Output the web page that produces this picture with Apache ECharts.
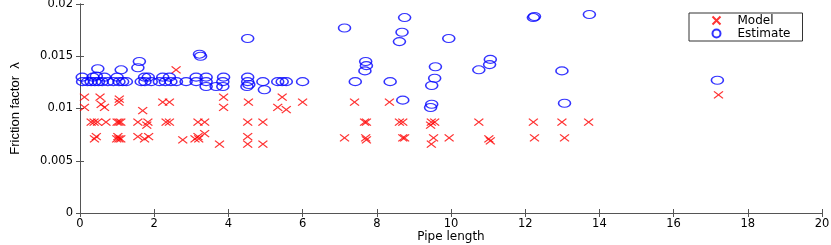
<!DOCTYPE html>
<html><head><meta charset="utf-8">
<script src="https://cdn.jsdelivr.net/npm/echarts@6/dist/echarts.min.js"></script>
<style>html,body{margin:0;padding:0;background:#fff}#c{width:831px;height:245px}</style>
</head><body><div id="c"></div>
<script>
var xTicks = [0,2,4,6,8,10,12,14,16,18,20];
var yTicks = [0,0.005,0.01,0.015,0.02];
var modelPoints = [
[0.12,0.0111],[0.12,0.0101],[0.54,0.0111],[0.57,0.0104],[0.66,0.0101],[1.06,0.0109],[1.05,0.0106],[2.59,0.0137],[1.69,0.0098],[2.23,0.0106],[2.41,0.0106],[3.87,0.0111],[3.87,0.0101],[4.54,0.0106],
[0.3,0.0087],[0.38,0.0087],[0.47,0.0087],[0.7,0.0087],[1.0,0.0087],[1.05,0.0087],[1.1,0.0087],[1.56,0.0087],[1.83,0.0087],[2.32,0.0087],[2.41,0.0087],[3.18,0.0087],[3.36,0.0087],[4.52,0.0087],[4.93,0.0087],
[1.8,0.0084],
[0.44,0.0073],[1.02,0.0073],[1.56,0.0073],[1.85,0.0073],[3.18,0.0073],[4.52,0.0073],
[0.39,0.0071],[0.99,0.0071],[1.05,0.0071],[1.1,0.0071],[1.74,0.0071],[3.1,0.0071],[3.2,0.0071],
[2.77,0.0070],[3.36,0.0076],[3.76,0.0066],[4.52,0.0066],[4.93,0.0066],
[5.45,0.0111],[5.33,0.0101],[5.56,0.0099],[6.0,0.0106],[7.4,0.0106],[7.13,0.0072],[7.67,0.0087],[7.72,0.0087],[7.7,0.0072],[7.72,0.0070],[8.34,0.0106],[8.61,0.0087],[8.7,0.0087],[8.7,0.0072],[8.75,0.0072],[9.47,0.0087],[9.56,0.0087],[9.45,0.0084],[9.53,0.0072],[9.47,0.0066],[9.95,0.0072],[10.75,0.0087],[11.02,0.0071],[11.06,0.0069],[12.22,0.0087],[12.25,0.0072],[12.99,0.0087],[13.06,0.0072],[13.71,0.0087],[17.21,0.0113]
];
var estimatePoints = [
[0.07,0.01257],[0.2,0.01257],[0.3,0.01257],[0.4,0.01257],[0.5,0.01257],[0.6,0.01257],[0.75,0.01257],[0.9,0.01257],[1.05,0.01257],[1.15,0.01257],[1.25,0.01257],[1.65,0.01257],[1.75,0.01257],[1.92,0.01257],[2.14,0.01257],[2.3,0.01257],[2.45,0.01257],[2.6,0.01257],[2.86,0.01257],[3.13,0.01257],[3.4,0.01257],[3.85,0.01257],[4.52,0.01257],[4.93,0.01257],[5.33,0.01257],[5.45,0.01257],[5.56,0.01257],[6.0,0.01257],[7.42,0.01257],[8.36,0.01257],
[0.06,0.013],[0.35,0.013],[0.66,0.013],[1.0,0.013],[1.74,0.013],[1.84,0.013],[2.23,0.013],[2.41,0.013],[3.13,0.013],[3.4,0.013],[3.87,0.013],[4.52,0.013],
[0.48,0.0138],[0.44,0.0131],[1.11,0.0137],[1.6,0.0145],[1.56,0.0139],[3.22,0.0152],[3.25,0.0150],[3.4,0.0121],[3.67,0.0121],[3.85,0.0121],[4.5,0.0121],[4.55,0.0123],[4.52,0.0167],[4.97,0.0118],[7.13,0.0177],[7.7,0.0145],[7.72,0.0141],[7.68,0.0136],[8.75,0.0187],[8.68,0.0173],[8.61,0.0164],[8.7,0.0108],[9.94,0.0167],[9.58,0.0140],[9.56,0.0129],[9.48,0.0122],[9.48,0.0104],[9.45,0.0101],[10.75,0.0137],[11.04,0.0142],[11.06,0.0147],[12.22,0.0187],[12.25,0.0188],[12.99,0.0136],[13.06,0.0105],[13.73,0.0190],[17.18,0.0127]
];
var wideFont = '"DejaVu Sans", Verdana, sans-serif';
var narrowFont = '"Liberation Sans Narrow", "Arial Narrow", "Liberation Sans", sans-serif';
var axisLineColor = '#555';
var crossPath = 'path://M0,0 L10,10 M10,0 L0,10';
var ellipsePath = 'path://M0,50 A50,50 0 1,1 100,50 A50,50 0 1,1 0,50 Z';
var chart = echarts.init(document.getElementById('c'), null, {renderer:'canvas'});
function yFmt(v){ return v === 0 ? '0' : String(+v.toFixed(3)); }
chart.setOption({
  animation:false,
  grid:{left:80, right:9, top:4, bottom:32, containLabel:false, outerBoundsMode:'none'},
  legend:{
    orient:'vertical', left:689, top:13,
    backgroundColor:'#fff', borderColor:'#333', borderWidth:1,
    padding:[1,12,1,21], itemWidth:12, itemHeight:8, itemGap:0,
    textStyle:{fontFamily:wideFont, fontSize:12, color:'#000', padding:[0,0,0,10]},
    data:['Model','Estimate']
  },
  xAxis:[{
    type:'value', min:xTicks[0], max:xTicks[xTicks.length-1], interval:2,
    name:'Pipe length', nameLocation:'middle', nameGap:18, nameMoveOverlap:false,
    nameTextStyle:{fontFamily:wideFont, fontSize:12, color:'#000'},
    axisLine:{show:true, lineStyle:{color:axisLineColor}},
    axisTick:{inside:true, length:4, lineStyle:{color:axisLineColor}},
    axisLabel:{fontFamily:wideFont, fontSize:11.5, color:'#000', margin:5},
    splitLine:{show:false}
  },{
    type:'value', position:'top', min:0, max:20, interval:2,
    axisLine:{show:true, lineStyle:{color:axisLineColor}},
    axisTick:{inside:true, length:4, lineStyle:{color:axisLineColor}},
    axisLabel:{show:false}, splitLine:{show:false}
  }],
  yAxis:[{
    type:'value', min:yTicks[0], max:yTicks[yTicks.length-1], interval:0.005,
    name:'Friction factor  \u03bb', nameLocation:'middle', nameGap:58, nameMoveOverlap:false,
    nameTextStyle:{fontFamily:narrowFont, fontSize:13, color:'#000'},
    axisLine:{show:true, lineStyle:{color:axisLineColor}},
    axisTick:{inside:true, length:4, lineStyle:{color:axisLineColor}},
    axisLabel:{fontFamily:wideFont, fontSize:11.5, color:'#000', margin:7, formatter:yFmt},
    splitLine:{show:false}
  },{
    type:'value', position:'right', min:0, max:0.02, interval:0.005,
    axisLine:{show:true, lineStyle:{color:axisLineColor}},
    axisTick:{inside:true, length:4, lineStyle:{color:axisLineColor}},
    axisLabel:{show:false}, splitLine:{show:false}
  }],
  series:[{
    name:'Model', type:'scatter', data:modelPoints,
    symbol:crossPath, symbolSize:[9,7],
    itemStyle:{color:'none', borderColor:'#ff0000', borderWidth:1.2},
    emphasis:{disabled:true}
  },{
    name:'Estimate', type:'scatter', data:estimatePoints,
    symbol:ellipsePath, symbolSize:[12,8],
    itemStyle:{color:'none', borderColor:'#0000ff', borderWidth:1.3},
    emphasis:{disabled:true}
  }]
});
</script></body></html>
